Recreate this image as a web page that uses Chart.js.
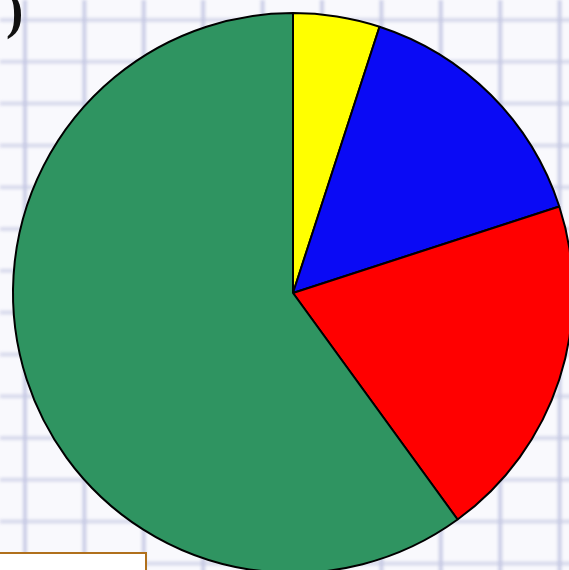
<!DOCTYPE html>
<html>
<head>
<meta charset="utf-8">
<script src="https://cdn.jsdelivr.net/npm/chart.js@4/dist/chart.umd.min.js"></script>
<style>
  html, body { margin: 0; padding: 0; width: 569px; height: 570px; overflow: hidden; background: #f9f9fd; }
  #wrap { position: relative; width: 569px; height: 570px; overflow: hidden; }
  #pie { position: absolute; left: 0; top: 0; }
  .paren { position: absolute; left: 6px; top: -19px; font-family: "Liberation Serif", serif; font-size: 52px; font-weight: bold; color: #111; }
  .note { position: absolute; left: -10px; top: 552px; width: 153px; height: 40px; background: #fff; border: 2.5px solid #b0701c; }
</style>
</head>
<body>
<div id="wrap">
  <canvas id="pie" width="586" height="586" style="width:586px;height:586px"></canvas>
  <div class="paren">)</div>
  <div class="note"></div>
</div>
<script>
// slices, clockwise from 12 o'clock
const categories = ["A", "B", "C", "D"];
const shares = [5, 15, 20, 60];
const sliceColors = ["#ffff00", "#0a0af5", "#ff0000", "#2f9461"];

// squared paper behind the pie
const gridPaper = {
  id: 'gridPaper',
  beforeDraw(chart) {
    const ctx = chart.ctx;
    ctx.save();
    ctx.filter = 'blur(1.8px)';
    ctx.strokeStyle = 'rgba(185,190,222,0.7)';
    ctx.lineWidth = 4;
    for (let x = 25; x < chart.width; x += 59.4) {
      ctx.beginPath(); ctx.moveTo(x, 0); ctx.lineTo(x, chart.height); ctx.stroke();
    }
    ctx.strokeStyle = 'rgba(195,198,225,0.6)';
    for (let y = 20; y < chart.height; y += 41.8) {
      ctx.beginPath(); ctx.moveTo(0, y); ctx.lineTo(chart.width, y); ctx.stroke();
    }
    ctx.restore();
  }
};

new Chart(document.getElementById('pie').getContext('2d'), {
  type: 'pie',
  data: {
    labels: categories,
    datasets: [{
      data: shares,
      backgroundColor: sliceColors,
      borderColor: '#000',
      borderWidth: 2
    }]
  },
  options: {
    responsive: false,
    animation: false,
    layout: { padding: 12 },
    plugins: {
      legend: { display: false },
      tooltip: { enabled: false }
    }
  },
  plugins: [gridPaper]
});
</script>
</body>
</html>
